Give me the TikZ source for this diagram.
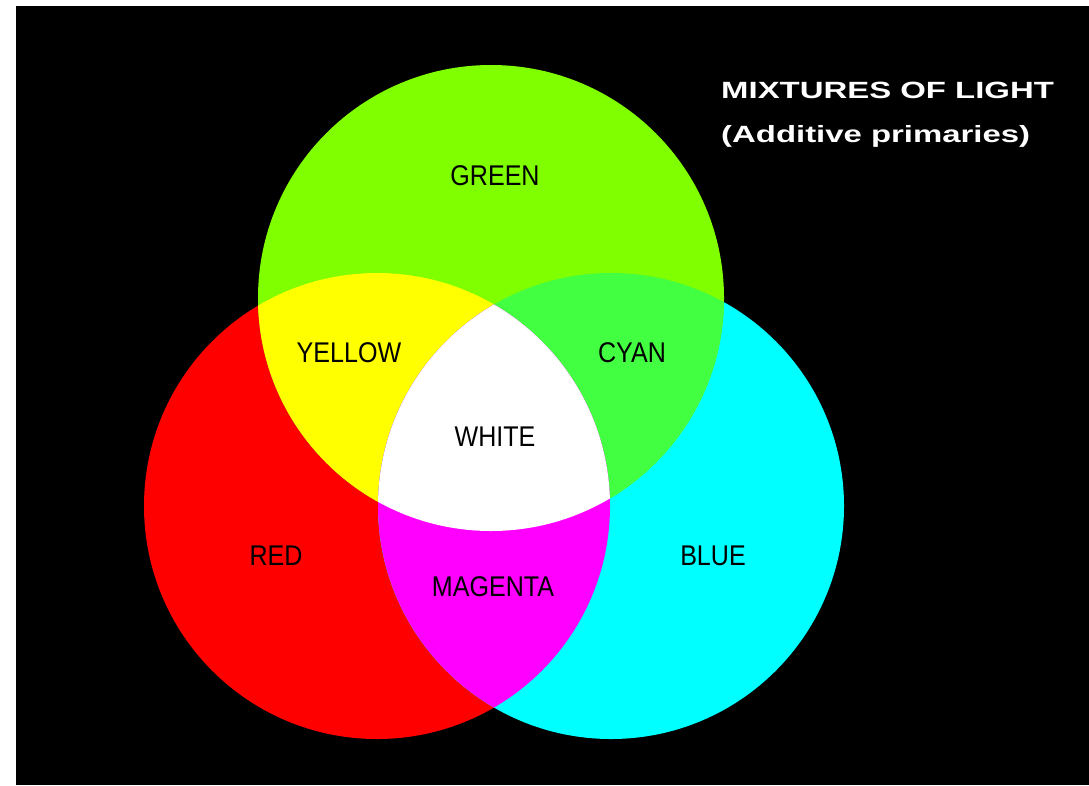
\documentclass[tikz,border=0pt]{standalone}
\usepackage{fontspec}
\newfontfamily\lblfont[FakeStretch=0.88]{Liberation Sans}
\newfontfamily\ttlfont[FakeStretch=1.40]{Liberation Sans}
\definecolor{cgreen}{RGB}{128,255,0}
\definecolor{cred}{RGB}{255,0,0}
\definecolor{cblue}{RGB}{0,255,255}
\definecolor{cyellow}{RGB}{255,255,0}
\definecolor{ccyan}{RGB}{66,255,66}
\definecolor{cmagenta}{RGB}{255,0,255}
\tikzset{
  lbl/.style={inner sep=0pt, text=black, font=\lblfont\fontsize{28.5}{30}\selectfont},
  ttl/.style={inner sep=0pt, anchor=base west, text=white, font=\ttlfont\bfseries\fontsize{23.5}{25}\selectfont},
}
\begin{document}
\begin{tikzpicture}[x=1pt,y=-1pt]
\useasboundingbox (0,0) rectangle (1089,785);
\fill[white] (0,0) rectangle (1089,785);
\fill[black] (16,6) rectangle (1089,785);
% centres and radius
\def\R{233}
\coordinate (G) at (491,298);
\coordinate (Rc) at (377,506);
\coordinate (B) at (611,506);
% primaries
\fill[cred] (Rc) circle (\R);
\fill[cblue] (B) circle (\R);
\fill[cgreen] (G) circle (\R);
% pairwise mixtures
\begin{scope}
  \clip (G) circle (\R);
  \fill[cyellow] (Rc) circle (\R);
  \fill[ccyan] (B) circle (\R);
\end{scope}
\begin{scope}
  \clip (Rc) circle (\R);
  \fill[cmagenta] (B) circle (\R);
  \clip (B) circle (\R);
  \fill[white] (G) circle (\R);
\end{scope}
% labels
\node[lbl] (lgreen) at (495,176) {GREEN};
\node[lbl] (lyellow) at (349,353) {YELLOW};
\node[lbl] (lcyan) at (632,353) {CYAN};
\node[lbl] (lwhite) at (495,437) {WHITE};
\node[lbl] (lred) at (276,556) {RED};
\node[lbl] (lblue) at (713,556) {BLUE};
\node[lbl] (lmagenta) at (493,587) {MAGENTA};
% title
\node[ttl] (t1) at (721,98) {MIXTURES OF LIGHT};
\node[ttl] (t2) at (721,142) {(Additive primaries)};
\end{tikzpicture}
\end{document}
